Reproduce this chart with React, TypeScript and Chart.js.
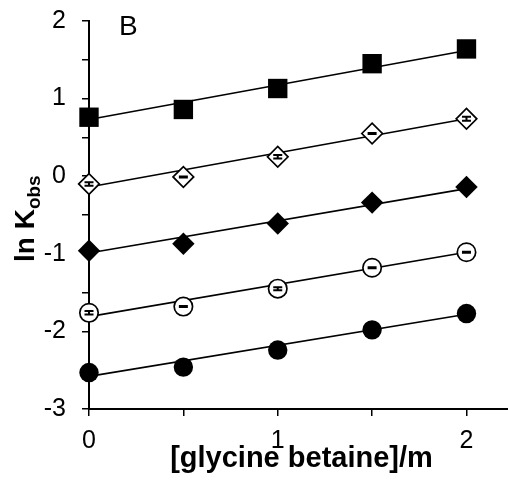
import React, { useEffect, useRef } from "react";
import { Chart, registerables } from "chart.js";

Chart.register(...registerables);

const xValues = [0, 0.5, 1, 1.5, 2];
const squareFilled = [0.76, 0.86, 1.13, 1.45, 1.64];
const diamondOpen = [-0.1, -0.01, 0.25, 0.55, 0.74];
const diamondFilled = [-0.96, -0.87, -0.61, -0.34, -0.14];
const circleOpen = [-1.76, -1.68, -1.45, -1.18, -0.98];
const circleFilled = [-2.53, -2.46, -2.24, -1.98, -1.77];

const diamondOpenErr = [0.022, 0.006, 0.022, 0.006, 0.026];
const circleOpenErr = [0.022, 0.006, 0.02, 0.006, 0.006];

// fitted line ends (x = 0 and x = 2)
const fitX = [0, 2];
const fitSquare = [0.73, 1.62];
const fitDiamondOpen = [-0.14, 0.74];
const fitDiamondFilled = [-0.99, -0.16];
const fitCircleOpen = [-1.81, -0.98];
const fitCircleFilled = [-2.58, -1.78];

const xTickValues = [0, 0.5, 1, 1.5, 2];
const yTickValues = [-3, -2.5, -2, -1.5, -1, -0.5, 0, 0.5, 1, 1.5, 2];

const FONT = "'Liberation Sans', Arial, sans-serif";

function pts(ys: number[], xs: number[] = xValues) {
  return ys.map((y, i) => ({ x: xs[i], y }));
}

export default function App() {
  const ref = useRef<HTMLCanvasElement | null>(null);

  useEffect(() => {
    document.body.style.margin = "0";
    const canvas = ref.current!;
    const errPlugin = {
      id: "errbars",
      afterDatasetsDraw(chart: any) {
        const ctx = chart.ctx;
        const xs = chart.scales.x;
        const ys = chart.scales.y;
        const draw = (vals: number[], errs: number[]) => {
          vals.forEach((v, i) => {
            const px = xs.getPixelForValue(xValues[i]);
            const top = ys.getPixelForValue(v + errs[i]);
            const bot = ys.getPixelForValue(v - errs[i]);
            ctx.save();
            ctx.strokeStyle = "#000";
            ctx.lineWidth = 2;
            ctx.beginPath();
            ctx.moveTo(px, top);
            ctx.lineTo(px, bot);
            ctx.moveTo(px - 4.5, top);
            ctx.lineTo(px + 4.5, top);
            ctx.moveTo(px - 4.5, bot);
            ctx.lineTo(px + 4.5, bot);
            ctx.stroke();
            ctx.restore();
          });
        };
        draw(diamondOpen, diamondOpenErr);
        draw(circleOpen, circleOpenErr);
      },
      afterDraw(chart: any) {
        const ctx = chart.ctx;
        ctx.save();
        ctx.fillStyle = "#000";
        // panel letter
        ctx.font = `28px ${FONT}`;
        ctx.textAlign = "left";
        ctx.textBaseline = "alphabetic";
        ctx.fillText("B", 119, 35);
        // x title
        ctx.font = `bold 29px ${FONT}`;
        ctx.textAlign = "center";
        ctx.fillText("[glycine betaine]/m", 301.5, 467);
        // y title, rotated
        ctx.translate(33.5, 262);
        ctx.rotate(-Math.PI / 2);
        const mainFont = `bold 28px ${FONT}`;
        const subFont = `bold 19px ${FONT}`;
        ctx.font = mainFont;
        const w1 = ctx.measureText("ln K").width;
        ctx.textAlign = "left";
        ctx.fillText("ln K", 0, 0);
        ctx.font = subFont;
        ctx.fillText("obs", w1, 6.5);
        ctx.restore();
      },
    };

    const markerBase = { showLine: false, clip: false as any, order: 0 };
    const lineBase = {
      showLine: true,
      pointRadius: 0,
      borderColor: "#000",
      borderWidth: 1.6,
      clip: false as any,
      order: 1,
    };

    const chart = new Chart(canvas, {
      type: "scatter",
      data: {
        datasets: [
          { ...lineBase, data: pts(fitSquare, fitX) },
          { ...lineBase, data: pts(fitDiamondOpen, fitX) },
          { ...lineBase, data: pts(fitDiamondFilled, fitX) },
          { ...lineBase, data: pts(fitCircleOpen, fitX) },
          { ...lineBase, data: pts(fitCircleFilled, fitX) },
          { ...markerBase, data: pts(squareFilled), pointStyle: "rect", pointRadius: 13.7, backgroundColor: "#000", borderColor: "#000", borderWidth: 0 },
          { ...markerBase, data: pts(diamondOpen), pointStyle: "rectRot", pointRadius: 10.3, backgroundColor: "#fff", borderColor: "#000", borderWidth: 1.7 },
          { ...markerBase, data: pts(diamondFilled), pointStyle: "rectRot", pointRadius: 11.2, backgroundColor: "#000", borderColor: "#000", borderWidth: 0 },
          { ...markerBase, data: pts(circleOpen), pointStyle: "circle", pointRadius: 9.2, backgroundColor: "#fff", borderColor: "#000", borderWidth: 1.7 },
          { ...markerBase, data: pts(circleFilled), pointStyle: "circle", pointRadius: 9.7, backgroundColor: "#000", borderColor: "#000", borderWidth: 0 },
        ],
      },
      options: {
        animation: false,
        responsive: false,
        maintainAspectRatio: false,
        layout: { autoPadding: false, padding: { top: 21, right: 0, left: 0, bottom: 0 } },
        plugins: { legend: { display: false }, tooltip: { enabled: false } },
        elements: { point: { hoverRadius: 0 } as any },
        scales: {
          x: {
            type: "linear",
            min: 0,
            max: 2.22,
            afterBuildTicks: (s: any) => {
              s.ticks = xTickValues.map((v) => ({ value: v }));
            },
            afterFit: (s: any) => {
              s.height = 74;
              s.paddingLeft = 0;
              s.paddingRight = 0;
            },
            ticks: {
              color: "#000",
              font: { family: FONT, size: 25 },
              padding: 10,
              maxRotation: 0,
              autoSkip: false,
              callback: (v: any) => (Number.isInteger(v) ? String(v) : ""),
            },
            grid: { drawOnChartArea: false, color: "#000", lineWidth: 1.5, tickLength: 7 },
            border: { color: "#000", width: 2 },
          },
          y: {
            type: "linear",
            min: -3,
            max: 2,
            z: 1,
            afterBuildTicks: (s: any) => {
              s.ticks = yTickValues.map((v) => ({ value: v }));
            },
            afterFit: (s: any) => {
              s.width = 89;
              s.paddingTop = 0;
              s.paddingBottom = 0;
            },
            ticks: {
              color: "#000",
              font: { family: FONT, size: 25 },
              padding: 16,
              autoSkip: false,
              callback: (v: any) => (Number.isInteger(v) ? String(v) : ""),
            },
            grid: { drawOnChartArea: false, color: "#000", lineWidth: 1.5, tickLength: 7 },
            border: { color: "#000", width: 2 },
          },
        },
      },
      plugins: [errPlugin],
    } as any);
    return () => chart.destroy();
  }, []);

  return (
    <div style={{ width: 508, height: 483 }}>
      <canvas ref={ref} width={508} height={483} style={{ display: "block" }} />
    </div>
  );
}
